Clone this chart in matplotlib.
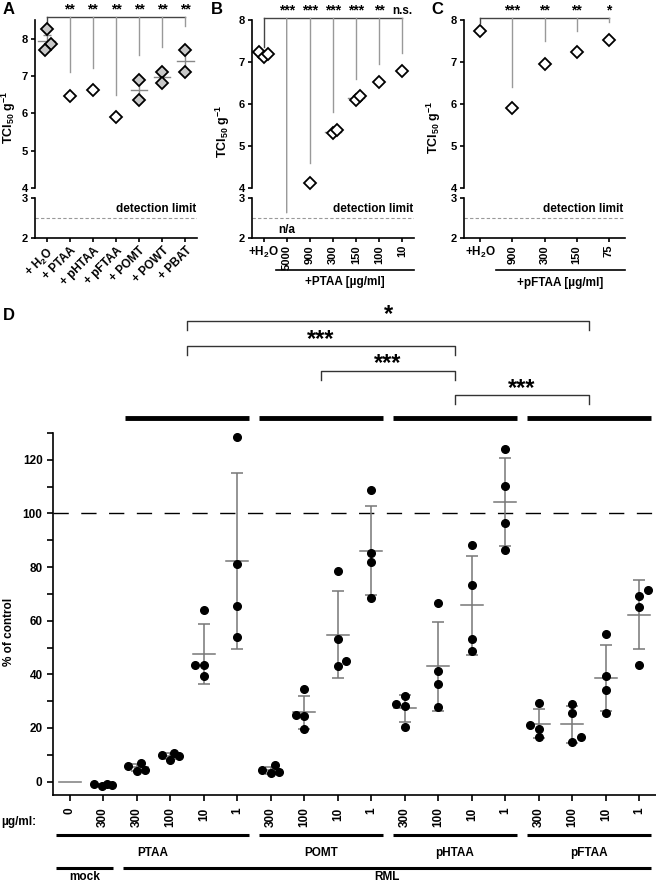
import numpy as np
import matplotlib
matplotlib.use('Agg')
import matplotlib.pyplot as plt
from matplotlib.patches import ConnectionPatch
from matplotlib.transforms import blended_transform_factory

plt.rcParams['font.family'] = ['Liberation Sans', 'DejaVu Sans']
plt.rcParams['font.weight'] = 'bold'
plt.rcParams['axes.labelweight'] = 'bold'
plt.rcParams['mathtext.fontset'] = 'custom'
plt.rcParams['mathtext.rm'] = 'Liberation Sans:bold'
plt.rcParams['mathtext.it'] = 'Liberation Sans:bold'
plt.rcParams['mathtext.bf'] = 'Liberation Sans:bold'
plt.rcParams['axes.linewidth'] = 1.2

# ---- panel A: TCI50 with different LCPs
a_labels = ['+ H$_2$O', '+ PTAA', '+ pHTAA', '+ pFTAA', '+ POMT', '+ POWT', '+ PBAT']
a_values = [[8.25, 7.85, 7.7], [6.47], [6.62], [5.9], [6.9, 6.37], [7.12, 6.8], [7.7, 7.1]]
a_sig = ['**', '**', '**', '**', '**', '**']
a_sig_ends = [7.1, 7.22, 6.5, 7.55, 7.77, 8.33]

# ---- panel B: PTAA dilutions
b_labels = ['+H$_2$O', '5000', '900', '300', '150', '100', '10']
b_values = [[7.25, 7.12, 7.2], [], [4.13], [5.3, 5.37], [6.1, 6.2], [6.52], [6.78]]
b_sig = ['***', '***', '***', '***', '**', 'n.s.']
b_sig_ends = [2.63, 4.6, 5.8, 6.6, 6.95, 7.22]

# ---- panel C: pFTAA dilutions
c_labels = ['+H$_2$O', '900', '300', '150', '75']
c_values = [[7.75], [5.9], [6.95], [7.25], [7.52]]
c_sig = ['***', '**', '**', '*']
c_sig_ends = [6.4, 7.5, 7.75, 7.95]

# ---- panel D: % of control
d_conc = ['0', '300', '300', '100', '10', '1', '300', '100', '10', '1',
          '300', '100', '10', '1', '300', '100', '10', '1']
d_values = [
    [],
    [-1.0, -1.8, -0.8, -1.3],
    [6.0, 3.9, 6.9, 4.5],
    [10.1, 8.2, 10.8, 9.6],
    [64.0, 43.3, 43.3, 39.2],
    [128.6, 81.0, 65.6, 53.8],
    [4.4, 3.1, 6.1, 3.6],
    [24.8, 34.5, 24.3, 19.7],
    [78.5, 53.0, 44.9, 43.0],
    [108.7, 85.2, 81.9, 68.6],
    [29.1, 31.8, 28.3, 20.2],
    [66.5, 41.4, 36.5, 27.7],
    [88.2, 73.2, 53.0, 48.6],
    [124.0, 110.3, 96.4, 86.5],
    [21.2, 29.2, 19.7, 16.5],
    [28.9, 25.4, 14.7, 16.5],
    [55.0, 39.4, 34.3, 25.6],
    [71.3, 69.2, 65.1, 43.3],
]
compounds = ['PTAA', 'POMT', 'pHTAA', 'pFTAA']
d_brackets = [('*', 0, 3), ('***', 0, 2), ('***', 1, 2), ('***', 2, 3)]

# jitter of overlapping points (layout only)
a_jit = [[0, 0.2, -0.05], [0], [0], [0], [0, 0], [0, 0], [0, 0]]
b_jit = [[-0.2, 0, 0.2], [], [0], [0, 0.17], [0, 0.17], [0], [0]]
c_jit = [[0], [0], [0], [0], [0]]
d_jit = [[], [-0.28, -0.05, 0.12, 0.26], [-0.25, 0, 0.12, 0.24], [-0.25, 0, 0.12, 0.25],
         [0, -0.25, 0, 0], [0, 0, 0, 0], [-0.25, 0, 0.12, 0.25], [-0.25, 0, 0, 0],
         [0, 0, 0.25, 0], [0, 0, 0, 0], [-0.25, 0, 0, 0], [0, 0, 0, 0],
         [0, 0, 0, 0], [0, 0, 0, 0], [-0.25, 0, 0, 0], [0, 0, 0, 0.25],
         [0, 0, 0, 0], [0.25, 0, 0, 0]]

W, H = 656, 884
fig = plt.figure(figsize=(W / 100, H / 100), dpi=100)


def fx(px):
    return px / W


def fy(py):
    return 1 - py / H


def add_ax(l, t, r, b):
    return fig.add_axes([fx(l), fy(b), fx(r) - fx(l), fy(t) - fy(b)])


def tci_panel(left, right, ymax, xlim, labels, values, jit, sig, sig_ends,
              sig_top, h2o_end, grey_fill, label_xy):
    up = add_ax(left, 20, right, 188)
    lo = add_ax(left, 198, right, 238)
    for a in (up, lo):
        a.set_xlim(xlim)
        a.spines['top'].set_visible(False)
        a.spines['right'].set_visible(False)
        a.tick_params(direction='out', length=3, width=1.2, labelsize=8.5, pad=2)
    up.spines['bottom'].set_visible(False)
    up.set_xticks([])
    up.set_ylim(4, ymax)
    up.set_yticks([4, 5, 6, 7, 8])
    lo.set_ylim(2, 3)
    lo.set_yticks([2, 3])
    up.tick_params(axis='y', labelsize=8)
    lo.tick_params(axis='y', labelsize=8)
    lo.axhline(2.5, ls=(0, (3, 2)), color='#999999', lw=0.8)
    lo.text(xlim[1] - 0.05, 2.58, 'detection limit', ha='right', va='bottom', fontsize=8.5)

    for i, vals in enumerate(values):
        if not vals:
            continue
        x = i + np.array(jit[i])
        fc = 'white'
        if len(vals) > 1:
            m = np.mean(vals)
            sem = np.std(vals, ddof=1) / np.sqrt(len(vals))
            up.plot([i - 0.35, i + 0.35], [m, m], color='#888888', lw=1, zorder=1)
            up.errorbar(i, m, yerr=sem, color='#888888', lw=1, capsize=3, zorder=1)
            if grey_fill:
                fc = '#c8c8c8'
        up.plot(x, vals, 'D', mfc=fc, mec='black', mew=1.3, ms=6.5, zorder=3, clip_on=False)

    n = len(values)
    up.plot([0, n - 1], [sig_top, sig_top], color='#444444', lw=1, clip_on=False)
    up.plot([0, 0], [sig_top, h2o_end], color='#444444', lw=1, clip_on=False)
    for i, (s, e) in enumerate(zip(sig, sig_ends)):
        xi = i + 1
        if e >= 4:
            up.plot([xi, xi], [sig_top, e], color='#999999', lw=1, clip_on=False)
        else:
            con = ConnectionPatch(xyA=(xi, sig_top), coordsA=up.transData,
                                  xyB=(xi, e), coordsB=lo.transData,
                                  color='#999999', lw=1)
            fig.add_artist(con)
        up.text(xi, sig_top + 0.02, s, ha='center', va='bottom', fontsize=10 if s != 'n.s.' else 8.5)

    lo.set_xticks(range(n))
    lo.set_xticklabels(labels, fontsize=8.5)
    up.set_ylabel('TCI$_{50}$ g$^{-1}$', fontsize=9)
    up.yaxis.set_label_coords(*label_xy)
    return up, lo


# A
upA, loA = tci_panel(35, 197, 8.5, (-0.5, 6.5), a_labels, a_values, a_jit, a_sig,
                     a_sig_ends, 8.58, 8.42, True, (-0.105, 0.42))
for lbl in loA.get_xticklabels():
    lbl.set_rotation(45)
    lbl.set_ha('right')
    lbl.set_rotation_mode('anchor')

# B
upB, loB = tci_panel(252, 414, 8.0, (-0.5, 6.5), b_labels, b_values, b_jit, b_sig,
                     b_sig_ends, 8.04, 7.35, False, (-0.125, 0.34))
loB.text(1, 2.2, 'n/a', ha='center', va='center', fontsize=8.5)
for lbl in loB.get_xticklabels()[1:]:
    lbl.set_rotation(90)
    lbl.set_fontsize(8)
trB = blended_transform_factory(loB.transData, fig.transFigure)
loB.plot([0.55, 6.5], [fy(270), fy(270)], color='black', lw=1.2, transform=trB, clip_on=False)
loB.text(3.5, fy(282), '+PTAA [µg/ml]', transform=trB, ha='center', va='center', fontsize=8.5)

# C
upC, loC = tci_panel(464, 625, 8.0, (-0.5, 4.5), c_labels, c_values, c_jit, c_sig,
                     c_sig_ends, 8.04, 7.93, False, (-0.13, 0.36))
for lbl in loC.get_xticklabels()[1:]:
    lbl.set_rotation(90)
    lbl.set_fontsize(8)
trC = blended_transform_factory(loC.transData, fig.transFigure)
loC.plot([0.5, 4.5], [fy(270), fy(270)], color='black', lw=1.2, transform=trC, clip_on=False)
loC.text(2.5, fy(283), '+pFTAA [µg/ml]', transform=trC, ha='center', va='center', fontsize=8.5)

# D
ax = add_ax(53, 433, 656, 795)
ax.set_xlim(-0.5, 17.5)
ax.set_ylim(-5, 130)
ax.spines['top'].set_visible(False)
ax.spines['right'].set_visible(False)
ax.set_yticks(range(0, 121, 20))
ax.set_yticks(range(10, 131, 20), minor=True)
ax.tick_params(direction='out', length=4, width=1.2, labelsize=8.5)
ax.tick_params(which='minor', direction='out', length=4, width=1.2)
ax.set_xticks(range(len(d_conc)))
ax.set_xticklabels(d_conc, rotation=90, fontsize=8.5)
ax.tick_params(axis='x', pad=5)
ax.set_ylabel('% of control', fontsize=8.5)
ax.yaxis.set_label_coords(-0.063, 0.45)
ax.axhline(100, ls=(0, (11, 9)), color='black', lw=1)

for i, vals in enumerate(d_values):
    if not vals:
        ax.plot([i - 0.33, i + 0.33], [0, 0], color='#888888', lw=1.2)
        continue
    m = np.mean(vals)
    sd = np.std(vals, ddof=1)
    ax.plot([i - 0.33, i + 0.33], [m, m], color='#777777', lw=1.1, zorder=2)
    ax.errorbar(i, m, yerr=sd, color='#777777', lw=1.1, capsize=4.5, capthick=1.1, zorder=2)
    ax.plot(i + np.array(d_jit[i]), vals, 'o', color='black', ms=5.5, zorder=3, clip_on=False)

# group bars above the plot
group_start = [2, 6, 10, 14]
for g in group_start:
    ax.plot([g - 0.35, g + 3.35], [135.5, 135.5], color='black', lw=3.5,
            solid_capstyle='butt', clip_on=False)

# significance brackets
bracket_y = [171.7, 162.5, 153.3, 144.2]
for (s, g1, g2), yb in zip(d_brackets, bracket_y):
    x1 = group_start[g1] + 1.5
    x2 = group_start[g2] + 1.5
    ax.plot([x1, x1, x2, x2], [yb - 3.4, yb, yb, yb - 3.4], color='#333333', lw=1,
            clip_on=False)
    ax.text((x1 + x2) / 2, yb - 1.8, s, ha='center', va='bottom', fontsize=17)

# labels below
trD = blended_transform_factory(ax.transData, fig.transFigure)
fig.text(fx(1), fy(822), 'µg/ml:', ha='left', va='center', fontsize=8.5)
row1 = [(-0.4, 5.35), (5.65, 9.35), (9.65, 13.35), (13.65, 17.35)]
for (x1, x2), name in zip(row1, compounds):
    ax.plot([x1, x2], [fy(835), fy(835)], color='black', lw=2.2, transform=trD,
            clip_on=False, solid_capstyle='butt')
    ax.text((x1 + x2) / 2, fy(853), name, transform=trD, ha='center', va='center', fontsize=8.5)
row2 = [(-0.4, 1.3, 'mock'), (1.6, 17.35, 'RML')]
for x1, x2, name in row2:
    ax.plot([x1, x2], [fy(868), fy(868)], color='black', lw=2.2, transform=trD,
            clip_on=False, solid_capstyle='butt')
    ax.text((x1 + x2) / 2, fy(877), name, transform=trD, ha='center', va='center', fontsize=8.5)

# panel letters
for letter, px, py in [('A', 3, 9), ('B', 211, 9), ('C', 431, 9), ('D', 3, 315)]:
    fig.text(fx(px), fy(py), letter, ha='left', va='center', fontsize=12)

fig.savefig('out.png', dpi=100)
